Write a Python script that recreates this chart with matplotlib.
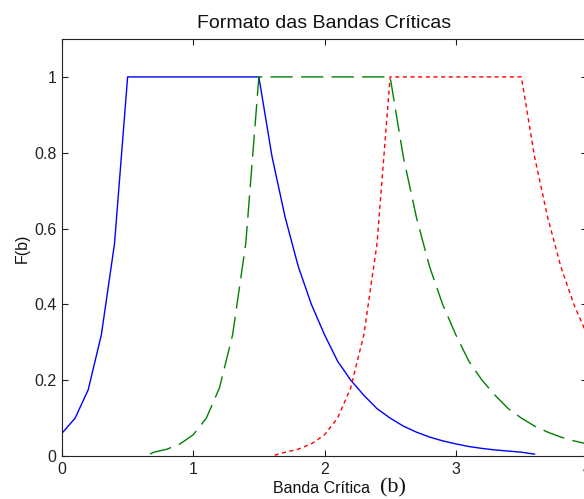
import matplotlib
matplotlib.use('Agg')
import matplotlib.pyplot as plt

# Data (critical band shapes, 3 bands)
blue_x = [0.0, 0.1, 0.2, 0.3, 0.4, 0.5, 1.5, 1.6, 1.7, 1.8, 1.9, 2.0, 2.1, 2.2,
          2.3, 2.4, 2.5, 2.6, 2.7, 2.8, 2.9, 3.0, 3.1, 3.2, 3.3, 3.4, 3.5, 3.6]
blue_y = [0.06, 0.10, 0.175, 0.32, 0.56, 1.0, 1.0, 0.79, 0.63, 0.50, 0.40, 0.32,
          0.25, 0.20, 0.16, 0.125, 0.10, 0.079, 0.063, 0.05, 0.04, 0.032, 0.025,
          0.02, 0.016, 0.013, 0.01, 0.005]

green_x = [0.67, 0.7, 0.8, 0.9, 1.0, 1.1, 1.2, 1.3, 1.4, 1.5, 2.5, 2.6, 2.7, 2.8,
           2.9, 3.0, 3.1, 3.2, 3.3, 3.4, 3.5, 3.6, 3.7, 3.8, 3.9, 4.0, 4.1]
green_y = [0.005, 0.01, 0.018, 0.032, 0.056, 0.10, 0.18, 0.32, 0.56, 1.0, 1.0,
           0.79, 0.63, 0.50, 0.40, 0.32, 0.25, 0.20, 0.16, 0.125, 0.10, 0.079,
           0.063, 0.05, 0.04, 0.032, 0.025]

red_x = [1.62, 1.7, 1.8, 1.9, 2.0, 2.1, 2.2, 2.3, 2.4, 2.5, 3.5, 3.6, 3.7, 3.8,
         3.9, 4.0, 4.1]
red_y = [0.002, 0.01, 0.018, 0.032, 0.056, 0.10, 0.18, 0.32, 0.56, 1.0, 1.0,
         0.79, 0.63, 0.50, 0.40, 0.32, 0.25]

x_ticks = [0, 1, 2, 3, 4]
y_ticks = [0, 0.2, 0.4, 0.6, 0.8, 1]
y_tick_labels = ['0', '0.2', '0.4', '0.6', '0.8', '1']

W, H = 584, 499
plt.rcParams['font.family'] = ['Liberation Sans', 'DejaVu Sans']

fig = plt.figure(figsize=(W / 100, H / 100), dpi=100)
# axes box: left 62 px, right 587 px, top 39 px, bottom 456 px
ax = fig.add_axes([62 / W, (H - 456) / H, 525 / W, 417 / H])

ax.plot(blue_x, blue_y, color='#0000ff', lw=1.0)
ax.plot(green_x, green_y, color='#008000', lw=1.0, dashes=(16, 6))
ax.plot(red_x, red_y, color='#ff0000', lw=1.0, dashes=(3, 2.5))

ax.set_xlim(0, 4)
ax.set_ylim(0, 1.1)
ax.set_xticks(x_ticks)
ax.set_yticks(y_ticks)
ax.set_yticklabels(y_tick_labels)
ax.tick_params(direction='in', length=4.5, width=0.8, top=True, right=True,
               labelsize=11.5, colors='#222222', pad=4)
for s in ax.spines.values():
    s.set_linewidth(0.8)
    s.set_color('#222222')

ax.set_title('Formato das Bandas Críticas', fontsize=14, pad=8, color='#111111')

# x label: sans part + serif "(b)"
fig.text(273 / W, 1 - 493 / H, 'Banda Crítica', fontsize=11.5, ha='left',
         va='baseline', color='#111111')
fig.text(380 / W, 1 - 492 / H, '(b)', fontsize=16, ha='left', va='baseline',
         family=['Liberation Serif', 'DejaVu Serif'], color='#111111')
fig.text(22 / W, 1 - 248 / H, 'F(b)', fontsize=11.5, rotation=90, ha='center',
         va='center', color='#111111')

fig.savefig('out.png', dpi=100)
